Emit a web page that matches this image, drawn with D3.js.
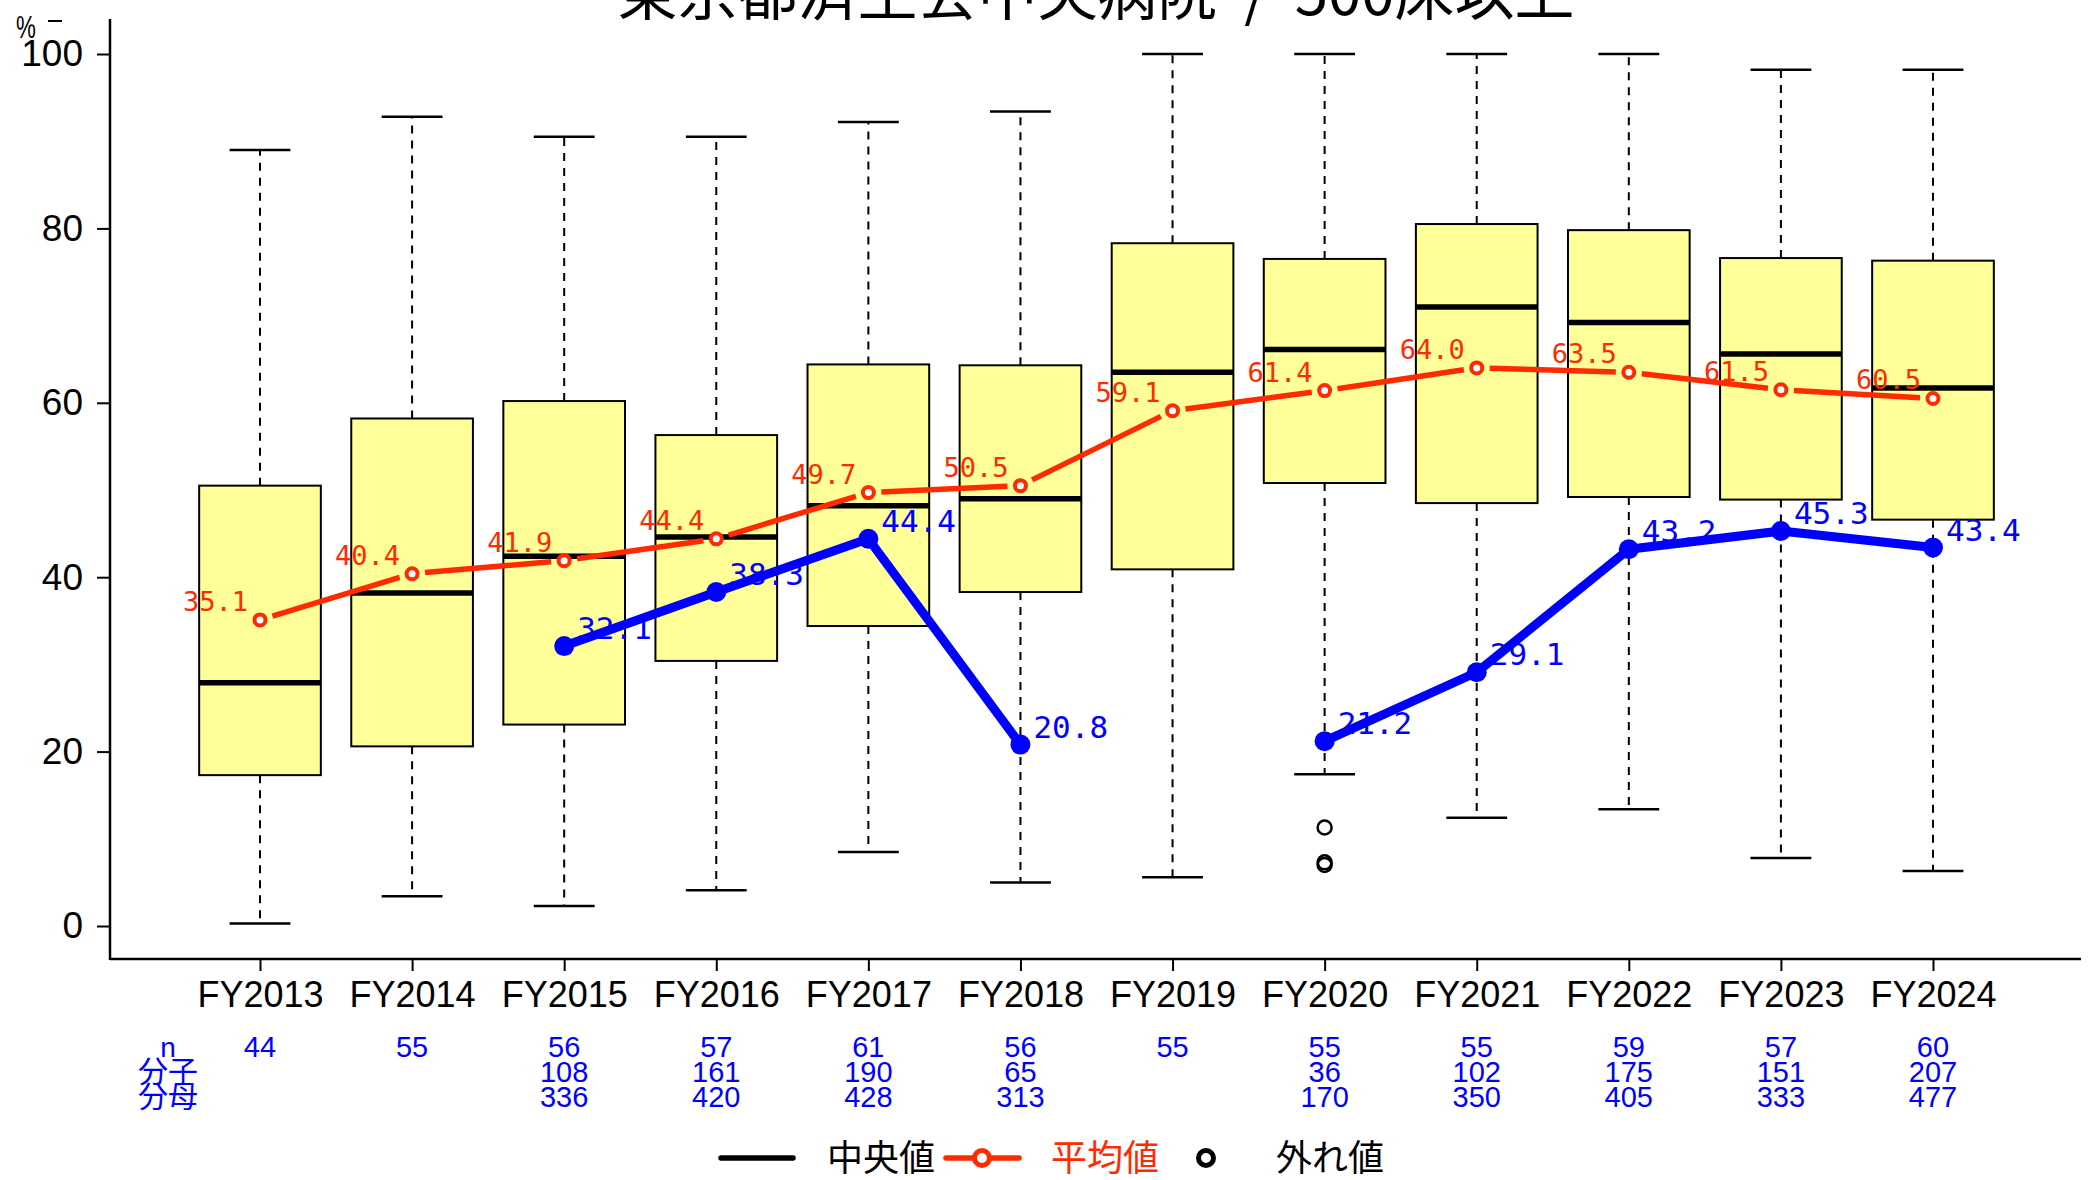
<!DOCTYPE html>
<html>
<head>
<meta charset="utf-8">
<script src="https://cdn.jsdelivr.net/npm/d3@7"></script>
<style>
body { margin: 0; background: #fff; }
svg { display: block; }
</style>
</head>
<body>
<svg id="chart" width="2089" height="1180"></svg>
<script>
const years = ["FY2013", "FY2014", "FY2015", "FY2016", "FY2017", "FY2018",
    "FY2019", "FY2020", "FY2021", "FY2022", "FY2023", "FY2024"];
const whisker_low = [0.3, 3.4, 2.3, 4.1, 8.5, 5.0, 5.6, 17.4, 12.4, 13.4, 7.8, 6.3];
const q1_values = [17.3, 20.6, 23.1, 30.4, 34.4, 38.3, 40.9, 50.8, 48.5, 49.2, 48.9, 46.6];
const median_values = [27.9, 38.2, 42.4, 44.6, 48.2, 49.0, 63.5, 66.1, 71.0, 69.2, 65.6, 61.7];
const q3_values = [50.5, 58.2, 60.2, 56.3, 64.4, 64.3, 78.3, 76.5, 80.5, 79.8, 76.6, 76.3];
const whisker_high = [89.0, 92.8, 90.5, 90.5, 92.2, 93.4, 100, 100, 100, 100, 98.2, 98.2];
const outlier_years = ["FY2020", "FY2020", "FY2020"];
const outlier_values = [11.3, 7.3, 7.0];
const mean_values = [35.1, 40.4, 41.9, 44.4, 49.7, 50.5, 59.1, 61.4, 64.0, 63.5, 61.5, 60.5];
const rate_values = [null, null, 32.1, 38.3, 44.4, 20.8, null, 21.2, 29.1, 43.2, 45.3, 43.4];
const n_counts = [44, 55, 56, 57, 61, 56, 55, 55, 55, 59, 57, 60];
const numerators = [null, null, 108, 161, 190, 65, null, 36, 102, 175, 151, 207];
const denominators = [null, null, 336, 420, 428, 313, null, 170, 350, 405, 333, 477];
const y_ticks = [0, 20, 40, 60, 80, 100];

const title_text = "東京都済生会中央病院 / 500床以上";

const red_color = "#FF2A00";
const blue_color = "#0000FF";
const box_color = "#FFFF99";
const sans_font = "'Liberation Sans', Arial, sans-serif";
const mono_font = "'DejaVu Sans Mono', 'Liberation Mono', monospace";
const cjk_font = "'Noto Sans CJK JP', 'Noto Sans CJK SC', sans-serif";

const svg = d3.select("#chart");

const x = d3.scalePoint().domain(years).range([260, 1933]);
const y = d3.scaleLinear().domain([0, 100]).range([926, 54]);
const box_width = x.step() * 0.8;
const axis_left = 110;
const axis_bottom = 959;

// title (partly cut off at the top, as in the original)
svg.append("text")
    .attr("x", 1096)
    .attr("y", 15)
    .attr("text-anchor", "middle")
    .attr("font-family", cjk_font)
    .attr("font-size", 60)
    .attr("fill", "#000")
    .text(title_text.replace(" / ", "  /  "))
    .attr("xml:space", "preserve")
    .style("white-space", "pre");

// unit label
svg.append("text")
    .attr("transform", "translate(16,38) scale(0.72,1)")
    .attr("font-family", sans_font)
    .attr("font-size", 31)
    .text("%");
svg.append("line")
    .attr("x1", 48).attr("x2", 62)
    .attr("y1", 21).attr("y2", 21)
    .attr("stroke", "#000").attr("stroke-width", 2);

// axes
const yAxis = svg.append("g")
    .attr("transform", `translate(${axis_left},0)`)
    .call(d3.axisLeft(y).tickValues(y_ticks).tickSize(13).tickPadding(14));
yAxis.select(".domain").remove();
yAxis.selectAll(".tick line").attr("stroke-width", 2);
yAxis.selectAll(".tick text")
    .attr("font-family", sans_font)
    .attr("font-size", 37)
    .attr("fill", "#000");

const xAxis = svg.append("g")
    .attr("transform", `translate(0,${axis_bottom})`)
    .call(d3.axisBottom(x).tickSize(12));
xAxis.select(".domain").remove();
xAxis.selectAll(".tick line").attr("stroke-width", 2);
xAxis.selectAll(".tick text")
    .attr("y", 48)
    .attr("dy", 0)
    .attr("font-family", sans_font)
    .attr("font-size", 36)
    .attr("fill", "#000");

svg.append("line")
    .attr("x1", axis_left).attr("x2", axis_left)
    .attr("y1", 19).attr("y2", axis_bottom + 1)
    .attr("stroke", "#000").attr("stroke-width", 2.5);
svg.append("line")
    .attr("x1", axis_left).attr("x2", 2081)
    .attr("y1", axis_bottom).attr("y2", axis_bottom)
    .attr("stroke", "#000").attr("stroke-width", 2.5);

// boxplots
function drawBoxes() {
    for (let i = 0; i < years.length; i++) {
        const cx = x(years[i]);
        const g = svg.append("g");
        // whiskers
        g.append("line")
            .attr("x1", cx).attr("x2", cx)
            .attr("y1", y(q3_values[i])).attr("y2", y(whisker_high[i]))
            .attr("stroke", "#000").attr("stroke-width", 2)
            .attr("stroke-dasharray", "8,7");
        g.append("line")
            .attr("x1", cx).attr("x2", cx)
            .attr("y1", y(q1_values[i])).attr("y2", y(whisker_low[i]))
            .attr("stroke", "#000").attr("stroke-width", 2)
            .attr("stroke-dasharray", "8,7");
        // caps
        for (const v of [whisker_high[i], whisker_low[i]]) {
            g.append("line")
                .attr("x1", cx - box_width / 4).attr("x2", cx + box_width / 4)
                .attr("y1", y(v)).attr("y2", y(v))
                .attr("stroke", "#000").attr("stroke-width", 2.5);
        }
        // box
        g.append("rect")
            .attr("x", cx - box_width / 2)
            .attr("y", y(q3_values[i]))
            .attr("width", box_width)
            .attr("height", y(q1_values[i]) - y(q3_values[i]))
            .attr("fill", box_color)
            .attr("stroke", "#000")
            .attr("stroke-width", 2);
        // median
        g.append("line")
            .attr("x1", cx - box_width / 2).attr("x2", cx + box_width / 2)
            .attr("y1", y(median_values[i])).attr("y2", y(median_values[i]))
            .attr("stroke", "#000").attr("stroke-width", 5.5);
    }
    for (let k = 0; k < outlier_values.length; k++) {
        svg.append("circle")
            .attr("cx", x(outlier_years[k]))
            .attr("cy", y(outlier_values[k]))
            .attr("r", 7)
            .attr("fill", "none")
            .attr("stroke", "#000")
            .attr("stroke-width", 2.5);
    }
}

// mean line (type "b": segments stop short of the points)
function drawMean() {
    const gap = 13;
    for (let i = 0; i < years.length - 1; i++) {
        const x1 = x(years[i]), y1 = y(mean_values[i]);
        const x2 = x(years[i + 1]), y2 = y(mean_values[i + 1]);
        const len = Math.hypot(x2 - x1, y2 - y1);
        const ux = (x2 - x1) / len, uy = (y2 - y1) / len;
        svg.append("line")
            .attr("x1", x1 + ux * gap).attr("y1", y1 + uy * gap)
            .attr("x2", x2 - ux * gap).attr("y2", y2 - uy * gap)
            .attr("stroke", red_color).attr("stroke-width", 5.5);
    }
    for (let i = 0; i < years.length; i++) {
        const cx = x(years[i]), cy = y(mean_values[i]);
        svg.append("circle")
            .attr("cx", cx).attr("cy", cy).attr("r", 5.5)
            .attr("fill", "#fff")
            .attr("stroke", red_color).attr("stroke-width", 4);
        svg.append("text")
            .attr("x", cx - 12).attr("y", cy - 9)
            .attr("text-anchor", "end")
            .attr("font-family", mono_font)
            .attr("font-size", 27)
            .attr("fill", red_color)
            .text(mean_values[i].toFixed(1));
    }
}

// rate line (numerator / denominator), breaks at missing years
function drawRate() {
    const line = d3.line()
        .defined(d => d.v != null)
        .x(d => x(d.year))
        .y(d => y(d.v));
    const pts = years.map((yr, i) => ({ year: yr, v: rate_values[i] }));
    svg.append("path")
        .attr("d", line(pts))
        .attr("fill", "none")
        .attr("stroke", blue_color)
        .attr("stroke-width", 9)
        .attr("stroke-linejoin", "round");
    for (const p of pts) {
        if (p.v == null) continue;
        svg.append("circle")
            .attr("cx", x(p.year)).attr("cy", y(p.v)).attr("r", 10)
            .attr("fill", blue_color);
        svg.append("text")
            .attr("x", x(p.year) + 13).attr("y", y(p.v) - 7)
            .attr("font-family", mono_font)
            .attr("font-size", 31)
            .attr("fill", blue_color)
            .text(p.v.toFixed(1));
    }
}

// count table below the axis
function drawTable() {
    const row_y = [1057, 1082, 1107];
    const rows = [n_counts, numerators, denominators];
    const row_labels = ["n", "分子", "分母"];
    for (let r = 0; r < rows.length; r++) {
        svg.append("text")
            .attr("x", 168).attr("y", row_y[r])
            .attr("text-anchor", "middle")
            .attr("font-family", r == 0 ? sans_font : cjk_font)
            .attr("font-size", r == 0 ? 28 : 30)
            .attr("fill", blue_color)
            .text(row_labels[r]);
        for (let i = 0; i < years.length; i++) {
            if (rows[r][i] == null) continue;
            svg.append("text")
                .attr("x", x(years[i])).attr("y", row_y[r])
                .attr("text-anchor", "middle")
                .attr("font-family", sans_font)
                .attr("font-size", 29)
                .attr("fill", blue_color)
                .text(rows[r][i]);
        }
    }
}

function drawLegend() {
    const ly = 1158;
    const g = svg.append("g");
    g.append("line")
        .attr("x1", 721).attr("x2", 793).attr("y1", ly).attr("y2", ly)
        .attr("stroke", "#000").attr("stroke-width", 5.5).attr("stroke-linecap", "round");
    g.append("text")
        .attr("x", 827).attr("y", ly + 13)
        .attr("font-family", cjk_font).attr("font-size", 36)
        .attr("fill", "#000").text("中央値");
    g.append("line")
        .attr("x1", 946).attr("x2", 1019).attr("y1", ly).attr("y2", ly)
        .attr("stroke", red_color).attr("stroke-width", 5.5).attr("stroke-linecap", "round");
    g.append("circle")
        .attr("cx", 982).attr("cy", ly).attr("r", 7.5)
        .attr("fill", "#fff").attr("stroke", red_color).attr("stroke-width", 5);
    g.append("text")
        .attr("x", 1051).attr("y", ly + 13)
        .attr("font-family", cjk_font).attr("font-size", 36)
        .attr("fill", red_color).text("平均値");
    g.append("circle")
        .attr("cx", 1206).attr("cy", ly).attr("r", 7.5)
        .attr("fill", "none").attr("stroke", "#000").attr("stroke-width", 5);
    g.append("text")
        .attr("x", 1276).attr("y", ly + 13)
        .attr("font-family", cjk_font).attr("font-size", 36)
        .attr("fill", "#000").text("外れ値");
}

drawBoxes();
drawMean();
drawRate();
drawTable();
drawLegend();
</script>
</body>
</html>
